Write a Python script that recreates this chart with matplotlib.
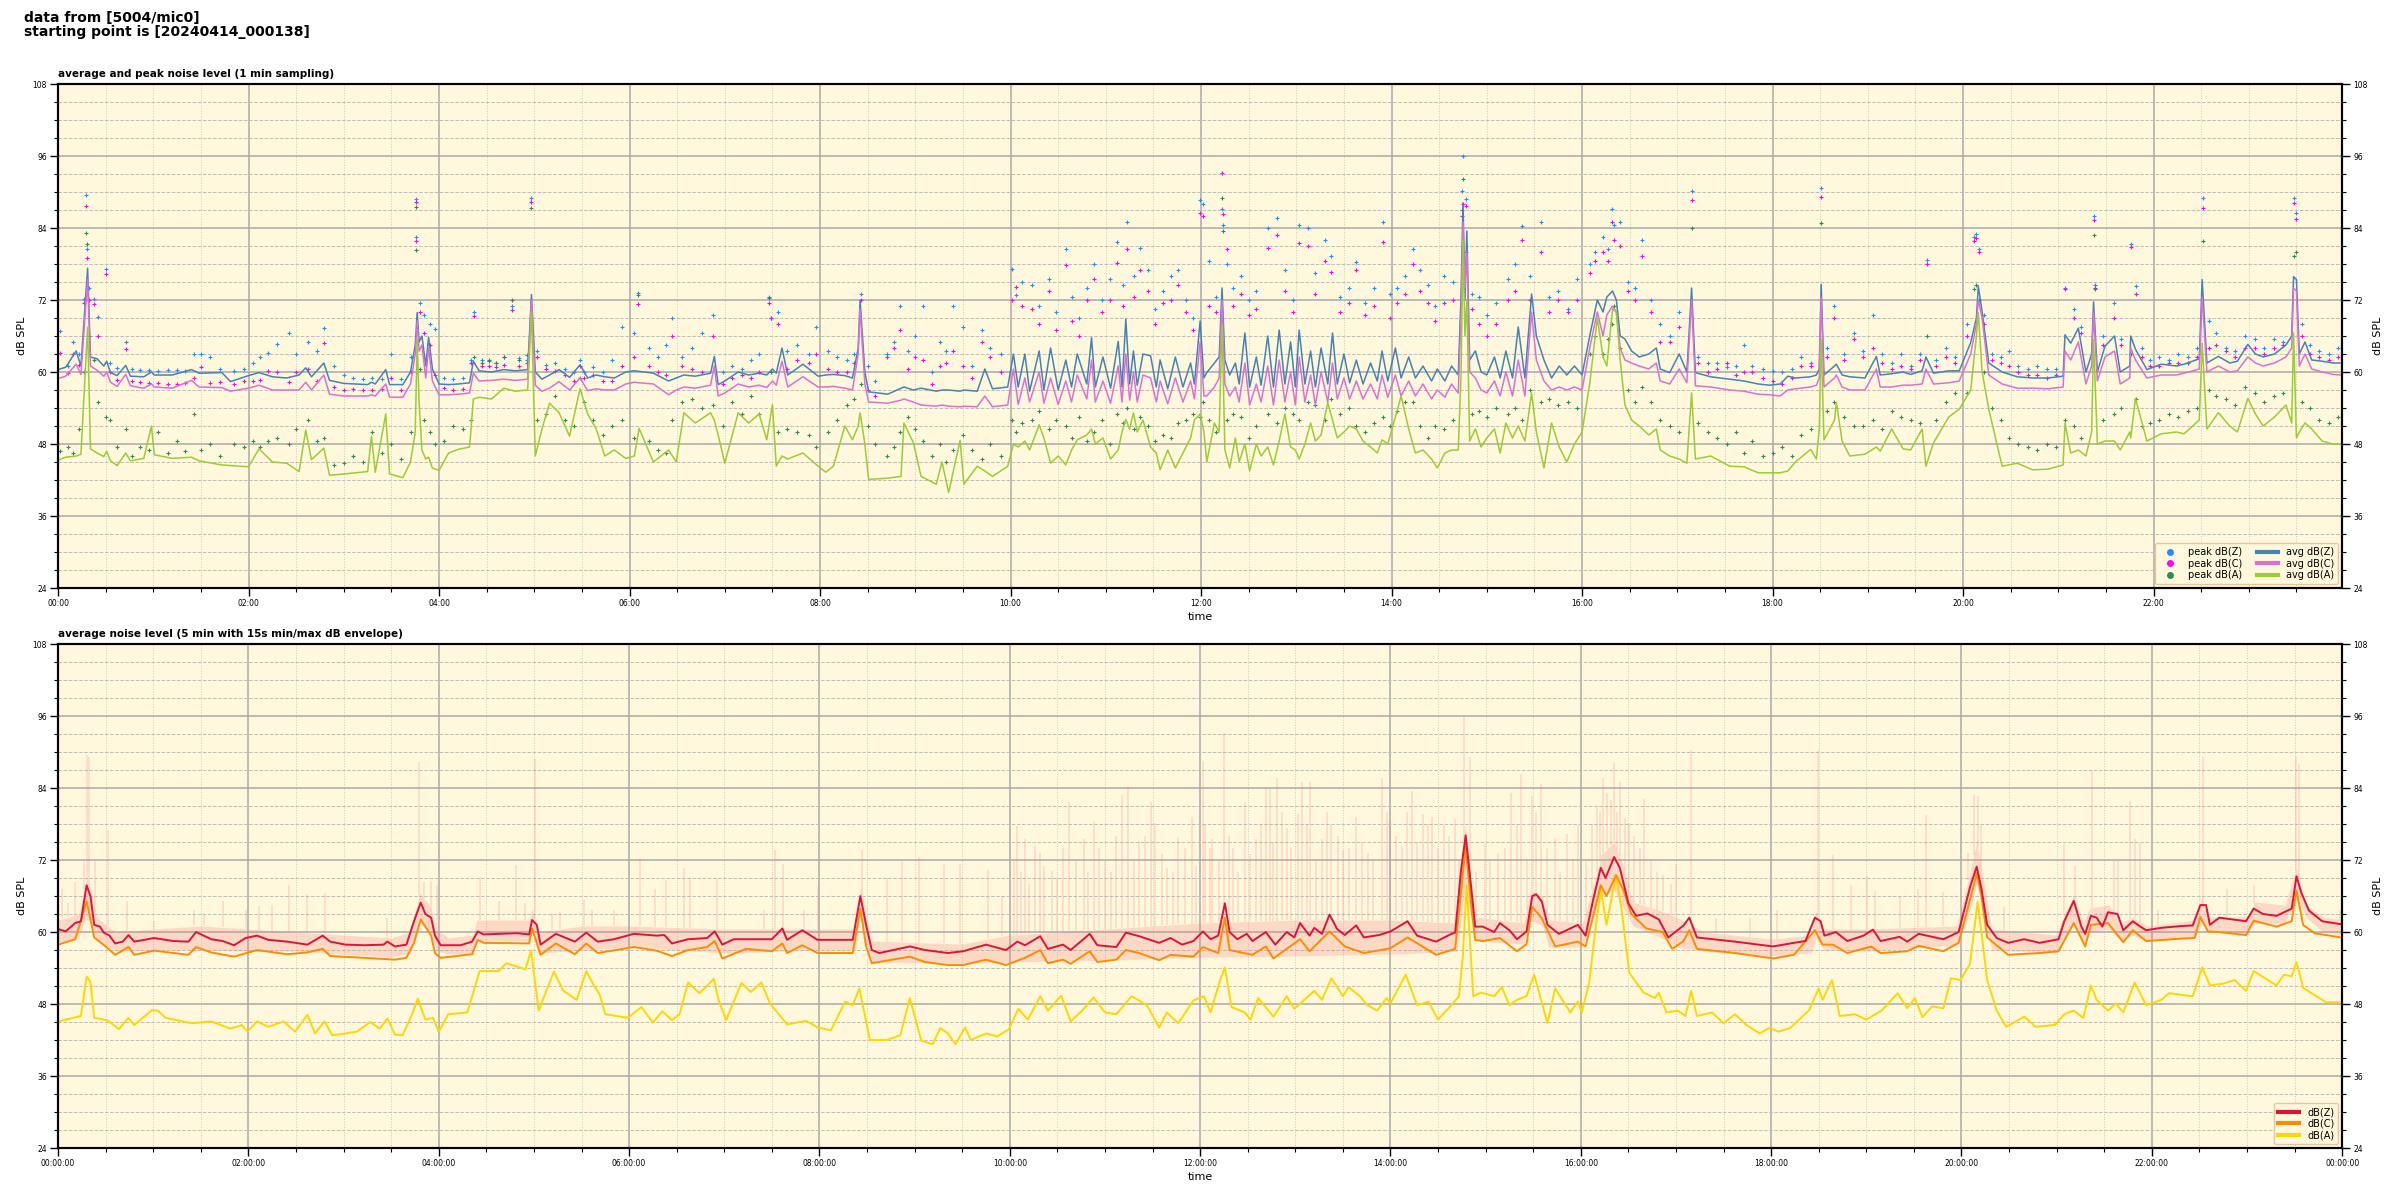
import numpy as np
import matplotlib
matplotlib.use('Agg')
import matplotlib.pyplot as plt
from matplotlib.ticker import MultipleLocator, FuncFormatter
from matplotlib.lines import Line2D

# ---------------- top panel: 1 min averages (hours since midnight) ----------------
t_avg = [0.00,0.08,0.19,0.24,0.31,0.34,0.41,0.48,0.51,0.55,
         0.62,0.71,0.76,0.90,0.98,1.01,1.20,1.40,1.48,1.72,
         1.81,2.00,2.11,2.25,2.40,2.53,2.60,2.66,2.79,2.85,
         3.00,3.25,3.29,3.33,3.44,3.48,3.62,3.70,3.75,3.77,
         3.79,3.82,3.86,3.89,3.93,4.00,4.10,4.20,4.32,4.36,
         4.42,4.55,4.68,4.80,4.93,4.97,5.01,5.08,5.16,5.26,
         5.37,5.48,5.56,5.65,5.74,5.84,5.96,6.05,6.10,6.25,
         6.41,6.49,6.57,6.69,6.85,6.89,6.93,7.00,7.14,7.25,
         7.36,7.44,7.50,7.54,7.60,7.66,7.82,7.98,8.06,8.14,
         8.26,8.34,8.40,8.42,8.47,8.51,8.71,8.85,8.88,8.98,
         9.06,9.22,9.28,9.35,9.47,9.51,9.65,9.73,9.81,9.97,
         10.03,10.08,10.15,10.20,10.30,10.35,10.42,10.50,10.58,10.64,
         10.70,10.80,10.85,10.89,10.97,11.05,11.13,11.17,11.21,11.25,
         11.29,11.33,11.39,11.47,11.53,11.57,11.65,11.73,11.81,11.89,
         11.93,11.99,12.03,12.06,12.14,12.19,12.22,12.25,12.30,12.36,
         12.40,12.46,12.51,12.58,12.63,12.70,12.76,12.82,12.88,12.94,
         12.99,13.03,13.09,13.15,13.20,13.26,13.33,13.38,13.43,13.50,
         13.56,13.63,13.70,13.78,13.85,13.90,13.96,14.04,14.10,14.18,
         14.25,14.33,14.42,14.48,14.56,14.63,14.70,14.73,14.75,14.77,
         14.79,14.82,14.88,14.94,15.00,15.08,15.14,15.20,15.27,15.33,
         15.40,15.47,15.52,15.60,15.68,15.76,15.84,15.92,16.00,16.08,
         16.16,16.22,16.26,16.32,16.36,16.40,16.45,16.52,16.60,16.70,
         16.78,16.82,16.92,17.02,17.10,17.15,17.19,17.35,17.55,17.70,
         17.85,17.97,18.08,18.16,18.24,18.40,18.46,18.49,18.51,18.54,
         18.65,18.67,18.73,18.81,18.97,19.09,19.13,19.25,19.37,19.45,
         19.57,19.61,19.69,19.85,19.96,20.08,20.14,20.16,20.20,20.27,
         20.41,20.57,20.73,20.89,21.05,21.07,21.13,21.21,21.29,21.35,
         21.37,21.41,21.49,21.59,21.65,21.75,21.76,21.81,21.93,22.08,
         22.24,22.32,22.48,22.51,22.56,22.68,22.80,22.88,22.99,23.07,
         23.15,23.27,23.39,23.45,23.47,23.50,23.53,23.59,23.66,23.77,
         23.88,23.97]
z_avg = [60.4,60.8,63.5,61.0,77.3,62.5,62.2,61.0,61.8,59.9,
         59.4,61.1,59.3,59.2,60.0,59.5,59.5,60.4,59.8,59.9,
         58.4,59.4,59.9,59.2,59.0,59.5,60.7,59.2,61.5,58.6,
         58.1,57.9,58.3,58.0,60.4,57.9,57.9,60.0,64.5,69.9,
         65.0,66.0,61.0,65.8,60.5,58.0,57.9,58.0,58.2,61.8,
         60.2,60.0,60.4,60.2,60.4,72.9,60.0,58.8,59.5,60.4,
         59.1,61.2,59.0,59.5,59.2,59.0,60.0,60.2,60.1,59.8,
         58.5,59.0,59.5,59.3,59.8,62.6,57.9,58.5,60.0,59.5,
         59.8,59.5,60.5,59.8,64.0,59.5,61.3,59.3,59.5,59.6,
         59.4,59.0,64.0,72.0,60.0,56.7,56.3,57.3,57.5,57.0,
         57.3,56.8,57.0,57.0,56.8,57.0,56.8,60.5,57.2,57.5,
         63.0,57.5,63.0,56.8,63.5,57.0,64.0,57.0,62.0,57.5,
         63.0,58.0,65.7,57.5,62.5,57.3,65.1,57.5,68.8,58.0,
         63.5,57.8,63.0,62.7,57.5,62.0,57.2,62.5,57.5,61.5,
         58.0,68.5,59.0,59.9,61.5,62.5,74.0,62.0,59.5,61.5,
         58.0,66.5,57.5,62.5,57.8,66.0,57.5,67.0,58.0,65.0,
         57.5,67.0,58.0,63.5,57.5,64.0,58.0,66.5,58.0,63.0,
         58.2,62.0,58.0,61.5,58.5,63.5,58.5,64.0,59.0,62.5,
         59.0,61.0,58.5,60.5,58.5,61.0,59.5,73.0,88.2,72.0,
         83.5,62.0,63.5,60.0,59.5,62.5,59.0,63.5,59.0,67.5,
         59.0,73.0,66.0,62.0,59.0,61.0,59.5,61.0,59.5,66.0,
         72.0,70.0,72.5,73.5,72.0,66.0,65.5,63.5,62.5,63.0,
         64.0,60.5,59.9,63.0,60.0,74.0,59.9,59.2,58.8,58.5,
         58.0,57.8,58.0,59.3,59.0,59.2,59.5,60.5,74.6,59.5,
         61.0,61.3,59.5,59.2,59.0,62.6,59.5,59.7,60.0,59.6,
         60.2,62.5,59.8,60.2,60.2,64.9,69.0,74.3,70.0,61.5,
         60.0,59.2,59.0,59.0,59.3,66.2,64.8,67.3,60.0,63.0,
         71.7,60.0,64.3,66.0,60.0,61.0,66.0,63.8,60.4,61.3,
         61.0,61.3,62.2,75.4,61.5,62.6,61.5,61.8,64.6,63.0,
         62.5,63.0,64.5,66.0,75.9,75.4,63.0,65.0,62.0,61.8,
         61.5,61.5]
c_avg = [58.9,59.3,61.3,59.6,75.4,61.0,60.3,59.3,60.0,58.3,
         57.6,59.6,57.7,57.3,58.0,57.5,57.3,58.6,57.5,57.4,
         56.8,57.3,57.8,57.0,57.0,57.0,58.3,57.0,59.5,56.3,
         56.0,56.0,56.2,56.0,58.0,55.8,55.8,58.0,63.0,68.5,
         63.5,64.5,59.0,64.0,58.5,56.2,56.2,56.3,56.5,59.8,
         58.5,58.6,58.8,58.6,58.8,72.0,57.8,56.8,57.3,58.4,
         57.0,59.0,56.9,57.2,57.0,57.0,58.0,58.3,58.2,58.0,
         56.2,57.0,57.5,57.3,57.8,61.0,56.0,56.5,58.0,57.5,
         57.8,57.4,58.5,57.8,61.8,57.5,59.2,57.5,57.5,57.6,
         57.3,57.0,63.0,70.5,58.0,55.0,54.8,55.3,55.5,55.0,
         54.5,54.3,54.5,54.3,54.2,54.3,54.2,56.0,54.2,54.5,
         60.5,54.6,59.0,55.0,60.0,54.8,59.0,54.6,58.5,55.0,
         59.5,55.5,62.0,55.0,58.5,54.8,61.0,55.0,63.0,55.3,
         60.0,55.0,59.5,59.0,55.0,58.5,54.7,59.0,55.0,58.5,
         55.5,65.0,56.0,56.0,57.5,59.0,72.0,58.0,56.0,57.5,
         55.0,61.5,54.5,58.0,55.0,61.0,54.5,62.0,55.0,60.0,
         54.5,62.5,55.0,59.5,54.5,60.0,55.0,61.5,55.5,59.0,
         55.5,58.5,55.5,58.0,55.5,59.5,55.8,59.5,56.0,58.5,
         56.0,58.0,55.5,57.0,55.8,58.0,56.5,70.0,85.0,74.0,
         80.0,60.0,59.0,57.0,56.5,58.5,56.0,60.0,56.0,62.0,
         56.0,70.0,62.0,58.5,57.0,57.5,57.0,57.5,57.0,64.0,
         70.0,66.0,69.5,71.0,70.0,64.0,62.0,61.5,61.0,60.5,
         61.5,58.5,58.0,60.5,58.2,72.0,57.7,57.5,57.0,56.8,
         56.3,56.2,56.0,57.0,57.2,57.5,57.8,59.0,72.5,57.5,
         59.0,59.5,57.5,57.0,57.0,60.5,57.5,57.5,57.8,57.8,
         58.0,60.5,58.0,58.2,58.5,63.0,68.0,72.0,69.0,59.5,
         58.0,57.3,57.3,57.2,57.5,63.5,62.0,65.0,58.0,61.0,
         70.0,58.5,62.5,63.5,58.0,59.0,64.0,62.0,59.0,59.5,
         59.5,59.8,60.5,72.5,60.0,61.0,60.0,60.2,62.5,61.5,
         61.0,61.5,62.5,64.0,74.0,73.5,61.0,63.0,60.5,60.0,
         59.6,59.5]
a_avg = [45.3,45.8,46.0,46.3,67.5,47.2,46.5,45.9,46.8,45.2,
         44.4,46.5,45.2,45.6,51.0,46.2,45.6,45.8,45.2,44.5,
         44.4,44.2,47.2,45.0,44.8,43.4,50.3,45.4,47.3,42.8,
         43.0,43.4,49.3,43.3,53.0,43.0,42.4,45.0,50.0,65.5,
         55.0,47.0,45.5,45.8,44.0,43.6,46.5,47.1,47.5,55.5,
         55.8,55.5,57.3,56.8,57.0,69.9,46.0,50.5,54.8,53.2,
         49.3,57.2,53.0,50.5,46.0,47.0,45.6,46.0,50.6,45.0,
         47.0,45.0,53.2,51.5,53.2,52.0,49.5,44.8,53.2,51.5,
         53.0,48.7,54.6,44.3,46.0,45.5,46.5,44.3,43.3,44.3,
         51.0,48.7,51.0,53.2,48.0,42.1,42.3,42.6,51.5,48.2,
         42.6,41.3,45.0,39.9,48.6,41.3,44.3,43.5,42.6,44.3,
         48.0,47.5,48.5,47.0,51.2,49.0,44.8,46.0,44.5,47.0,
         48.7,49.5,50.5,48.0,49.0,45.5,47.0,50.0,52.1,50.5,
         53.2,50.0,52.0,47.5,46.5,43.7,47.0,44.0,46.5,49.0,
         52.0,53.0,50.0,45.0,51.5,50.0,68.0,47.0,44.0,49.0,
         45.0,48.0,43.5,48.0,46.0,47.5,44.5,48.5,53.0,47.5,
         47.0,45.5,48.0,51.5,48.5,49.5,54.9,52.0,49.0,50.0,
         51.0,50.5,48.5,47.5,46.5,48.7,48.0,52.5,56.0,50.5,
         46.5,47.0,45.5,44.0,46.5,47.0,47.0,60.0,82.0,66.0,
         72.0,48.5,50.5,47.5,49.0,50.5,46.5,51.5,49.0,51.0,
         48.5,56.5,50.0,44.0,51.5,47.5,45.0,48.0,50.0,58.0,
         69.0,62.5,61.0,70.5,70.0,62.0,54.5,52.0,51.0,49.5,
         50.5,47.0,46.0,45.5,44.8,56.5,45.5,46.0,44.3,44.2,
         43.2,43.2,43.2,43.5,45.0,47.1,45.5,50.5,65.4,48.7,
         52.0,54.9,48.5,46.0,46.3,47.5,46.8,50.5,47.2,47.0,
         50.5,44.3,48.2,52.5,53.8,57.0,66.0,69.9,60.0,53.8,
         44.3,44.8,43.7,43.8,44.5,51.5,46.5,47.0,46.0,50.0,
         65.4,48.0,48.5,48.5,47.0,50.0,49.0,55.6,48.5,49.7,
         50.0,49.7,52.0,64.8,50.5,53.2,51.0,50.0,55.6,53.0,
         51.0,52.5,54.5,51.5,66.5,49.0,50.0,51.5,50.5,48.5,
         48.0,48.0]

# ---------------- top panel: 1 min peaks ----------------
t_peak = [0.02,0.10,0.16,0.22,0.27,0.29,0.30,0.32,0.38,0.42,
          0.50,0.55,0.62,0.71,0.78,0.86,0.95,1.05,1.15,1.25,
          1.33,1.43,1.50,1.60,1.70,1.85,1.95,2.05,2.12,2.20,
          2.30,2.42,2.50,2.62,2.72,2.79,2.90,3.00,3.10,3.20,
          3.30,3.40,3.50,3.60,3.70,3.755,3.76,3.80,3.84,3.90,
          3.96,4.05,4.15,4.25,4.34,4.37,4.45,4.52,4.60,4.68,
          4.77,4.84,4.92,4.97,5.03,5.12,5.22,5.32,5.42,5.48,
          5.52,5.62,5.72,5.82,5.92,6.05,6.09,6.20,6.30,6.38,
          6.45,6.55,6.66,6.76,6.88,6.98,7.08,7.18,7.28,7.36,
          7.46,7.48,7.56,7.65,7.76,7.88,7.96,8.08,8.18,8.28,
          8.36,8.43,8.50,8.58,8.70,8.78,8.84,8.92,9.00,9.08,
          9.18,9.26,9.32,9.40,9.50,9.60,9.70,9.78,9.90,10.02,
          10.06,10.12,10.22,10.30,10.40,10.48,10.58,10.64,10.72,10.80,
          10.88,10.96,11.04,11.12,11.18,11.22,11.30,11.36,11.44,11.52,
          11.60,11.68,11.76,11.84,11.92,11.99,12.02,12.08,12.16,12.22,
          12.23,12.27,12.34,12.42,12.50,12.58,12.70,12.80,12.88,12.96,
          13.03,13.12,13.20,13.30,13.36,13.46,13.55,13.63,13.72,13.82,
          13.91,13.98,14.06,14.14,14.22,14.30,14.38,14.46,14.55,14.64,
          14.74,14.75,14.78,14.84,14.92,15.00,15.10,15.22,15.30,15.37,
          15.45,15.57,15.65,15.75,15.85,15.95,16.08,16.14,16.22,16.27,
          16.31,16.34,16.40,16.48,16.56,16.63,16.72,16.82,16.92,17.02,
          17.15,17.22,17.32,17.42,17.52,17.62,17.70,17.78,17.90,18.00,
          18.10,18.20,18.30,18.40,18.51,18.57,18.65,18.75,18.85,18.95,
          19.05,19.15,19.25,19.35,19.45,19.55,19.62,19.72,19.82,19.92,
          20.04,20.12,20.14,20.17,20.22,20.30,20.40,20.48,20.58,20.68,
          20.78,20.88,20.98,21.07,21.16,21.24,21.37,21.39,21.47,21.58,
          21.66,21.76,21.82,21.88,21.96,22.06,22.16,22.26,22.36,22.46,
          22.52,22.58,22.66,22.76,22.86,22.96,23.06,23.16,23.26,23.36,
          23.47,23.50,23.56,23.64,23.74,23.84,23.94]
pz = [66.9,61.0,65.0,63.0,72.2,89.5,80.5,74.0,72.1,69.2,
      77.1,61.5,60.6,65.0,60.5,60.3,60.3,60.2,60.4,60.3,
      60.2,63.0,63.0,62.5,60.5,60.2,60.5,61.5,62.5,63.2,
      64.6,66.5,63.0,65.0,63.5,67.3,61.0,59.5,59.0,58.8,
      59.0,58.9,63.0,58.8,62.5,82.5,88.9,71.5,69.5,68.0,
      67.2,59.0,58.8,59.0,62.0,70.0,62.0,61.8,61.5,62.5,
      71.0,62.3,62.0,89.0,63.5,61.2,61.5,60.5,60.0,62.0,
      60.0,60.8,60.0,62.0,67.5,66.5,73.2,64.0,62.5,64.5,
      69.0,62.5,64.0,66.5,69.5,60.0,61.0,60.5,62.0,63.0,
      72.5,69.0,70.0,63.5,64.5,63.0,67.5,63.5,62.5,62.0,
      63.0,73.0,61.0,58.5,63.0,65.0,71.0,63.5,66.0,71.0,
      60.0,65.0,63.5,71.0,67.5,61.0,67.0,64.0,63.0,77.2,
      72.8,75.0,74.5,71.0,75.5,70.0,80.5,72.5,69.0,74.0,
      78.0,72.0,75.5,81.6,74.5,85.0,76.0,80.7,77.0,70.5,
      73.5,76.0,77.0,72.0,69.0,88.7,88.0,78.5,72.5,87.1,
      84.5,78.0,74.0,76.0,72.0,73.5,84.0,85.7,77.0,72.0,
      84.5,84.0,76.5,82.0,79.4,72.5,74.0,78.3,71.5,74.0,
      85.0,73.0,74.0,76.0,80.5,77.0,74.5,71.0,76.0,75.0,
      90.2,96.0,88.8,73.0,72.5,69.5,71.5,75.5,78.0,84.3,
      76.0,85.0,72.5,73.5,70.5,75.5,78.0,80.0,82.5,80.5,
      87.2,84.5,85.0,75.0,74.0,82.0,72.0,68.0,66.0,70.0,
      90.1,62.5,61.5,61.5,60.8,61.0,64.5,61.0,60.5,60.2,
      60.0,60.5,62.5,61.5,90.6,64.0,71.0,63.0,66.5,63.5,
      69.5,63.0,61.5,63.0,61.0,63.0,78.7,62.0,64.0,62.5,
      68.0,82.5,83.0,80.5,69.5,63.0,62.5,63.5,61.0,60.5,
      61.0,60.5,60.5,74.0,70.5,67.5,86.0,74.5,66.0,71.5,
      65.5,81.3,74.3,64.0,62.0,62.5,62.0,63.0,62.5,64.0,
      89.0,68.5,66.5,64.0,63.5,66.0,65.5,64.0,65.5,65.0,
      89.0,86.5,68.0,64.5,63.5,63.0,64.0]
pc = [63.2,59.8,63.0,61.2,71.5,87.7,79.0,72.0,71.3,66.0,
      76.3,60.0,58.6,63.9,58.5,58.3,58.2,58.2,58.0,58.0,
      58.1,59.0,60.8,58.2,58.3,58.0,58.5,58.5,58.7,60.2,
      60.0,58.3,60.0,60.5,58.5,64.9,57.5,57.0,57.2,57.0,
      57.0,57.2,59.0,57.0,60.0,81.9,88.4,70.0,66.5,64.5,
      59.5,57.3,57.0,57.2,61.5,69.3,61.0,61.0,60.8,61.2,
      70.3,61.0,61.5,88.4,62.5,60.5,60.2,59.5,58.5,61.0,
      59.0,59.5,58.5,58.5,61.0,62.5,71.3,61.0,60.0,59.5,
      66.0,61.0,60.5,60.0,66.0,58.0,59.0,59.5,59.0,60.0,
      71.5,69.0,68.0,60.5,62.0,61.5,63.0,60.5,60.0,60.0,
      61.5,72.0,57.0,56.0,62.5,64.0,67.0,60.5,62.5,62.0,
      58.0,61.0,61.5,63.5,61.0,59.0,65.0,62.5,60.0,72.0,
      74.2,71.0,70.5,68.0,73.5,67.0,77.8,68.5,66.0,72.0,
      75.5,70.0,72.0,78.2,71.0,80.5,72.5,77.0,73.5,68.0,
      71.5,72.0,74.5,70.0,67.0,86.5,86.0,71.0,70.0,93.1,
      86.4,80.5,71.0,73.0,69.5,70.5,80.7,82.8,73.5,70.0,
      81.5,81.0,73.0,78.5,76.6,70.0,71.5,77.0,69.5,71.0,
      81.7,69.0,71.5,73.0,78.0,73.5,71.5,68.5,71.5,72.0,
      86.0,88.0,87.7,70.5,68.0,66.0,68.0,72.0,73.5,82.0,
      72.0,80.0,70.0,72.0,70.0,72.0,76.5,78.5,80.0,78.5,
      85.0,82.0,81.0,73.5,72.0,79.4,70.0,65.0,65.0,67.5,
      88.6,61.5,60.0,60.5,61.5,59.5,60.0,60.0,59.0,58.5,
      58.0,59.0,61.0,61.0,89.2,62.5,69.0,62.0,65.5,62.5,
      64.0,61.5,60.5,61.0,60.5,62.0,78.0,61.0,62.5,61.5,
      66.0,81.8,82.3,80.0,68.0,62.0,61.5,61.0,60.0,59.5,
      59.5,59.0,59.5,73.8,69.0,66.5,85.4,74.0,64.5,69.0,
      64.5,80.9,73.0,62.5,61.0,61.0,61.5,61.5,61.5,62.5,
      87.4,64.0,64.5,63.5,62.5,64.0,64.0,63.0,64.0,64.5,
      88.1,85.5,66.0,63.0,62.5,62.0,62.5]
pa = [46.9,47.5,46.5,50.5,60.0,83.1,81.4,66.0,62.0,55.0,
      52.5,52.0,47.5,50.5,46.0,47.5,47.0,50.0,46.5,48.5,
      46.8,53.0,47.0,48.0,46.0,48.0,47.5,48.5,47.5,48.5,
      49.0,48.0,50.5,52.0,48.5,49.0,44.5,44.8,46.0,45.0,
      50.0,46.5,48.0,45.5,50.0,80.4,87.5,60.5,52.0,50.0,
      48.0,48.5,51.0,50.5,52.0,62.5,61.5,62.0,61.5,62.5,
      72.0,62.0,62.8,87.4,52.0,53.0,56.0,52.0,51.0,59.0,
      55.0,52.0,49.5,51.0,52.0,49.0,72.9,48.5,47.0,46.5,
      52.0,55.0,55.5,54.0,54.5,51.0,55.0,53.0,56.0,53.0,
      72.4,60.0,50.0,50.5,50.0,49.5,47.5,50.0,52.0,54.5,
      55.5,58.0,51.0,48.0,46.0,47.5,50.0,52.5,50.5,48.5,
      46.0,48.0,45.0,47.0,49.5,47.0,45.5,48.0,46.0,52.0,
      50.0,51.5,52.0,53.5,50.5,52.0,51.0,49.0,52.5,48.5,
      50.0,52.0,48.0,53.0,51.5,54.0,50.5,52.5,51.0,48.5,
      49.5,49.0,51.5,52.0,53.0,52.5,55.0,52.0,50.0,89.0,
      83.5,52.0,53.0,52.5,49.0,51.0,53.0,51.5,54.0,53.0,
      52.0,55.0,54.5,52.0,55.5,53.0,54.0,51.0,50.0,51.5,
      52.5,51.0,53.5,55.0,55.0,51.0,49.0,51.0,50.5,52.0,
      87.0,92.1,80.0,53.0,53.5,52.5,54.0,53.0,54.0,52.0,
      57.0,55.0,55.5,54.5,55.0,54.0,63.0,66.0,63.0,65.5,
      68.0,71.0,64.0,57.0,55.0,57.5,55.0,52.0,51.0,50.0,
      84.0,51.5,50.0,49.0,48.0,50.0,46.5,48.5,46.0,46.5,
      47.5,46.0,49.5,50.5,84.8,53.5,55.0,52.5,51.0,51.0,
      52.0,50.5,53.5,52.5,52.0,51.5,66.0,52.0,55.0,56.5,
      56.5,73.9,74.5,72.0,60.0,54.0,52.0,49.0,48.0,47.5,
      47.0,48.0,47.5,52.0,51.0,49.0,82.9,73.9,52.0,53.0,
      54.0,63.0,55.5,51.0,51.5,52.0,53.0,52.5,53.5,54.0,
      81.8,57.0,56.0,55.5,54.5,57.5,56.5,55.0,56.0,56.5,
      79.3,80.0,55.0,54.0,52.0,51.5,52.5]

# ---------------- bottom panel: 5 min averages ----------------
t_z5 = [0.00,0.08,0.18,0.24,0.30,0.34,0.38,0.44,0.48,0.54,
        0.60,0.68,0.74,0.80,1.01,1.21,1.37,1.45,1.61,1.73,
        1.85,1.97,2.09,2.21,2.41,2.62,2.78,2.86,3.02,3.22,
        3.42,3.46,3.54,3.66,3.74,3.81,3.86,3.92,3.96,4.02,
        4.23,4.35,4.41,4.47,4.63,4.83,4.95,4.98,5.03,5.07,
        5.23,5.43,5.55,5.67,5.84,6.05,6.29,6.37,6.45,6.62,
        6.82,6.90,6.98,7.10,7.50,7.61,7.66,7.82,7.98,8.35,
        8.43,8.49,8.55,8.63,8.95,9.11,9.35,9.51,9.75,9.96,
        10.08,10.16,10.32,10.40,10.56,10.64,10.84,10.92,11.12,11.22,
        11.36,11.57,11.69,11.81,11.93,12.03,12.11,12.19,12.26,12.31,
        12.39,12.49,12.55,12.69,12.79,12.91,12.99,13.05,13.15,13.20,
        13.28,13.36,13.44,13.52,13.64,13.72,13.88,14.00,14.18,14.28,
        14.48,14.64,14.68,14.74,14.79,14.85,14.89,14.97,15.09,15.15,
        15.25,15.33,15.43,15.49,15.53,15.59,15.65,15.77,15.97,16.05,
        16.13,16.21,16.26,16.35,16.41,16.50,16.58,16.70,16.82,16.92,
        17.08,17.14,17.22,17.62,18.02,18.24,18.36,18.46,18.52,18.56,
        18.68,18.80,18.97,19.07,19.15,19.35,19.43,19.55,19.81,19.97,
        20.09,20.16,20.21,20.27,20.37,20.49,20.66,20.82,21.02,21.08,
        21.18,21.26,21.30,21.36,21.42,21.48,21.54,21.64,21.70,21.80,
        21.88,21.94,22.10,22.31,22.43,22.51,22.57,22.61,22.71,22.99,
        23.07,23.17,23.31,23.47,23.52,23.57,23.65,23.79,23.99]
z5 = [60.5,60.1,61.5,61.8,67.8,66.0,61.2,60.9,59.9,59.4,
      58.1,58.4,59.5,58.4,59.0,58.5,58.4,60.0,58.8,58.5,
      57.8,59.0,59.4,58.7,58.4,57.9,59.4,58.4,57.9,57.8,
      57.9,58.4,57.6,57.9,61.8,64.9,63.0,62.4,59.4,57.8,
      57.8,58.4,60.1,59.6,59.7,59.8,59.6,62.0,61.2,57.9,
      59.7,58.4,59.9,58.4,58.8,59.7,59.4,59.5,58.1,58.8,
      59.0,60.1,57.9,58.8,58.8,60.6,58.7,60.3,58.7,58.7,
      66.0,61.2,57.0,56.5,57.6,57.0,56.5,56.8,57.9,57.0,
      58.4,57.8,59.3,57.2,57.9,57.0,59.7,57.8,57.5,59.9,
      59.3,58.2,59.0,57.9,58.5,60.1,58.8,59.4,64.8,60.0,
      58.8,59.7,58.5,60.0,57.9,60.0,59.1,61.5,59.4,60.7,
      59.7,62.9,60.5,59.5,61.1,59.1,59.5,60.1,61.8,59.4,
      58.4,59.7,59.9,70.1,76.1,67.2,60.9,60.9,60.0,61.5,
      60.3,58.8,60.1,66.0,66.3,65.1,61.2,59.7,61.2,59.4,
      65.4,70.7,69.0,72.5,70.7,64.8,62.7,63.1,62.1,59.1,
      61.1,62.4,59.1,58.4,57.6,58.2,58.5,62.4,61.8,59.4,
      60.0,58.5,59.4,60.4,58.5,59.2,58.4,59.7,58.8,60.0,
      67.5,70.9,67.2,61.2,59.0,58.2,58.8,58.2,58.8,61.8,
      65.2,60.9,59.7,62.7,62.4,60.9,63.3,63.0,60.3,61.8,
      60.9,60.3,60.7,61.0,61.1,64.5,64.5,61.2,62.4,61.8,
      63.9,63.0,62.7,63.9,69.3,66.6,63.6,61.8,61.3]

t_c5 = [0.00,0.18,0.30,0.38,0.50,0.60,0.74,0.80,1.01,1.37,
        1.45,1.61,1.85,2.09,2.41,2.62,2.78,2.86,3.22,3.54,
        3.66,3.74,3.81,3.92,3.96,4.02,4.35,4.41,4.47,4.95,
        4.98,5.07,5.23,5.43,5.55,5.67,6.05,6.29,6.45,6.62,
        6.82,6.90,6.98,7.23,7.50,7.61,7.66,7.82,7.98,8.35,
        8.43,8.49,8.55,8.95,9.11,9.35,9.51,9.75,9.96,10.16,
        10.32,10.40,10.56,10.64,10.84,10.92,11.12,11.22,11.36,11.57,
        11.69,11.93,12.03,12.19,12.26,12.31,12.55,12.69,12.77,13.05,
        13.15,13.36,13.52,13.72,14.00,14.18,14.48,14.68,14.79,14.85,
        14.89,14.97,15.15,15.33,15.43,15.49,15.59,15.73,15.97,16.05,
        16.21,16.27,16.37,16.45,16.53,16.69,16.86,16.96,17.08,17.14,
        17.22,17.62,18.02,18.24,18.46,18.54,18.65,18.80,19.05,19.15,
        19.43,19.55,19.81,19.97,20.09,20.16,20.21,20.27,20.49,20.82,
        21.02,21.18,21.30,21.36,21.54,21.70,21.80,21.94,22.31,22.45,
        22.51,22.59,22.71,22.99,23.07,23.31,23.47,23.52,23.59,23.71,
        23.99]
c5 = [57.9,58.8,65.1,59.1,57.6,56.2,57.5,56.2,56.9,56.2,
      57.5,56.6,55.9,57.0,56.3,56.6,57.2,56.0,55.7,55.4,
      55.7,58.2,62.1,59.4,56.5,55.7,56.3,58.7,58.2,58.1,
      60.6,56.2,58.1,56.3,58.1,56.5,57.5,56.9,56.0,57.0,
      57.5,58.5,55.6,57.2,56.8,58.1,56.5,57.8,56.5,56.5,
      63.9,57.6,54.8,55.9,55.0,54.5,54.5,55.4,54.5,55.7,
      57.0,54.8,55.4,54.7,56.8,55.0,55.4,57.0,56.5,55.3,
      56.2,55.9,57.5,56.5,62.4,57.0,56.2,57.6,55.6,58.8,
      56.8,60.1,57.6,56.5,57.3,59.1,56.2,57.2,74.3,64.2,
      58.7,58.5,59.0,56.8,58.0,64.2,62.3,57.6,58.4,57.6,
      67.8,66.0,69.5,66.9,63.0,60.6,60.0,57.2,58.5,60.3,
      57.2,56.5,55.6,56.2,60.3,57.9,57.9,56.5,57.6,56.5,
      56.8,57.7,56.8,58.2,65.4,69.8,66.0,59.1,56.2,56.5,
      56.8,61.5,57.6,61.2,61.5,58.3,60.3,58.5,58.9,59.0,
      62.5,60.1,60.0,59.5,61.9,60.9,61.8,66.9,61.2,59.8,
      59.1]

t_a5 = [0.00,0.24,0.30,0.34,0.38,0.52,0.64,0.74,0.80,0.99,
        1.05,1.13,1.25,1.41,1.61,1.81,1.93,1.99,2.09,2.21,
        2.37,2.49,2.62,2.70,2.80,2.88,3.02,3.14,3.28,3.38,
        3.46,3.54,3.62,3.72,3.78,3.86,3.94,4.00,4.10,4.30,
        4.43,4.63,4.71,4.91,4.97,5.05,5.21,5.31,5.45,5.55,
        5.63,5.69,5.75,5.99,6.13,6.25,6.35,6.45,6.53,6.62,
        6.74,6.89,6.94,7.02,7.18,7.28,7.39,7.48,7.66,7.86,
        7.98,8.12,8.27,8.35,8.42,8.53,8.71,8.85,8.95,9.07,
        9.19,9.27,9.35,9.43,9.53,9.59,9.75,9.87,9.99,10.09,
        10.19,10.32,10.40,10.54,10.64,10.76,10.88,11.00,11.12,11.28,
        11.44,11.57,11.65,11.77,11.93,12.04,12.11,12.21,12.26,12.33,
        12.47,12.53,12.61,12.77,12.91,12.99,13.20,13.28,13.38,13.50,
        13.56,13.68,13.76,13.86,13.96,14.00,14.16,14.28,14.40,14.50,
        14.64,14.72,14.76,14.80,14.87,14.95,15.09,15.17,15.25,15.33,
        15.43,15.51,15.65,15.73,15.89,15.97,16.01,16.09,16.15,16.21,
        16.27,16.37,16.43,16.51,16.66,16.78,16.82,16.90,17.02,17.10,
        17.16,17.22,17.38,17.50,17.62,17.74,17.88,17.98,18.08,18.20,
        18.32,18.40,18.50,18.54,18.64,18.72,18.88,19.00,19.16,19.33,
        19.43,19.51,19.59,19.69,19.81,19.89,19.99,20.09,20.17,20.27,
        20.37,20.47,20.66,20.78,20.98,21.08,21.18,21.28,21.36,21.42,
        21.54,21.62,21.70,21.82,21.94,22.10,22.18,22.43,22.53,22.61,
        22.75,22.87,22.99,23.07,23.19,23.31,23.39,23.47,23.52,23.59,
        23.71,23.83,23.99]
a5 = [45.1,46.0,52.6,51.7,45.7,45.3,43.8,45.7,44.5,47.0,
      46.9,45.7,45.3,44.8,45.1,43.9,44.5,43.4,45.1,44.2,
      45.1,43.4,46.2,43.1,45.1,42.8,43.1,43.4,45.0,43.9,
      45.6,42.9,42.8,46.3,48.9,45.4,45.7,43.4,46.3,46.6,
      53.5,53.5,54.8,53.8,56.9,46.9,53.4,50.2,48.7,53.5,
      51.1,49.6,46.3,45.7,47.5,44.9,46.8,45.3,46.3,51.6,
      49.8,52.2,48.7,45.3,51.5,50.0,51.6,48.1,44.6,45.2,
      44.1,43.6,48.4,47.8,50.6,42.0,42.0,42.8,49.0,41.9,
      41.3,44.0,43.1,41.3,44.1,42.0,43.1,42.6,43.8,47.2,
      45.4,49.3,46.9,49.4,45.1,46.9,49.1,46.6,46.3,49.3,
      47.8,44.1,46.6,44.8,48.6,49.3,46.6,52.0,54.1,47.5,
      46.6,45.4,49.0,45.9,49.3,47.2,50.2,48.7,52.3,49.3,
      50.8,49.3,47.8,46.9,49.0,48.1,52.9,47.8,48.4,45.4,
      47.8,49.3,55.9,67.8,49.3,49.9,49.3,50.8,47.8,48.7,
      49.3,52.9,44.8,50.6,46.6,48.4,46.6,51.7,60.0,67.1,
      61.2,69.5,63.6,53.2,49.9,49.0,49.9,46.6,46.9,46.0,
      50.2,46.0,46.6,44.8,46.3,44.5,43.1,44.0,43.4,44.0,
      45.8,47.0,50.6,48.7,52.0,46.0,46.3,45.4,46.9,49.8,
      47.3,49.0,45.8,47.6,47.3,52.3,52.0,54.7,65.1,52.0,
      46.9,44.2,45.9,44.2,44.5,46.3,46.9,45.7,51.1,48.7,
      46.9,48.1,46.6,51.6,47.8,48.7,49.8,49.3,54.1,51.1,
      51.4,52.0,50.2,53.5,52.3,51.1,52.9,52.6,55.0,50.7,
      49.5,48.3,48.3]

# 15 s min/max envelope: base band plus individual maxima
t_env = [0.00,0.22,0.28,0.34,0.40,0.60,1.00,1.50,2.00,2.50,
         3.00,3.50,3.70,3.80,3.90,3.97,4.10,4.36,4.40,4.95,
         4.98,5.05,5.50,6.00,7.00,8.00,8.38,8.43,8.50,8.55,
         9.50,10.00,11.00,12.00,13.00,14.00,14.70,14.74,14.79,14.85,
         14.90,15.40,15.47,15.60,15.66,16.02,16.12,16.22,16.35,16.45,
         16.55,16.85,17.00,17.30,18.00,18.42,18.47,18.56,19.00,19.95,
         20.06,20.16,20.24,20.32,21.00,21.08,21.18,21.28,21.35,21.55,
         21.68,21.80,21.95,22.45,22.52,22.60,23.00,23.08,23.40,23.52,
         23.62,23.80,24.00]
env_lo = [58.3,59.0,62.0,62.0,59.0,56.8,57.0,57.0,56.8,56.8,
          56.3,55.8,56.5,61.5,60.0,57.0,56.3,56.5,58.5,58.5,
          60.0,56.5,57.0,57.5,56.5,57.0,57.0,63.0,57.5,55.0,
          54.8,55.0,55.3,55.8,56.0,56.3,56.8,62.0,68.0,62.0,
          58.5,58.0,62.0,61.0,57.5,57.5,62.0,66.0,67.0,64.0,
          61.0,59.0,57.5,56.8,56.0,56.5,59.0,57.0,56.8,57.8,
          62.0,68.0,62.0,57.0,56.5,59.0,61.5,58.0,60.0,60.5,
          58.5,59.5,58.5,59.0,61.5,60.0,59.5,61.5,61.5,66.0,
          62.5,60.0,59.5]
env_hi = [62.0,63.0,68.0,67.5,62.5,60.0,60.5,61.0,60.5,60.0,
          59.5,59.0,60.0,66.5,64.5,60.5,59.0,59.5,62.0,62.0,
          64.0,60.0,61.0,61.0,60.5,60.5,60.5,67.5,62.0,58.5,
          58.0,59.5,60.5,61.5,62.0,62.0,61.5,71.0,78.0,68.0,
          62.5,61.5,67.0,66.0,62.0,61.5,67.0,73.0,75.0,71.0,
          65.0,63.5,62.5,60.0,58.8,59.5,63.5,60.5,60.5,61.0,
          68.0,75.0,68.0,60.5,59.5,63.0,66.0,61.5,64.0,64.5,
          61.5,62.5,61.0,62.0,65.5,62.5,62.5,65.0,64.5,70.5,
          64.5,62.5,62.0]
t_spk = [0.04,0.10,0.18,0.27,0.30,0.32,0.39,0.52,0.72,1.01,
         1.43,1.53,1.73,1.97,2.11,2.25,2.43,2.62,2.80,3.46,
         3.79,3.84,3.92,3.98,4.43,4.63,4.81,4.91,5.01,5.19,
         5.27,5.53,5.61,5.84,
         6.11,6.27,6.39,6.58,6.64,6.92,7.42,7.53,7.62,7.84,
         7.98,8.45,8.71,8.87,9.05,9.31,9.48,9.77,9.92,10.08,
         10.16,10.26,10.32,10.44,10.62,10.78,10.88,11.00,11.18,11.24,
         11.36,11.48,11.53,11.65,11.77,11.91,12.03,12.13,
         10.04,10.12,10.20,10.36,10.50,10.56,10.70,10.82,10.94,11.06,
         11.12,11.30,11.42,11.60,11.72,11.84,11.96,
         12.25,12.35,12.47,12.59,12.69,12.73,12.81,12.91,13.03,13.07,
         13.15,13.28,13.38,13.50,13.64,13.76,13.91,14.00,14.12,14.23,
         14.34,14.44,14.56,14.68,14.77,14.84,14.99,15.13,15.27,15.37,
         15.49,15.58,15.73,15.85,15.97,16.17,16.23,16.28,16.35,16.41,
         16.51,16.66,16.86,17.00,17.16,17.42,17.78,18.06,
         12.05,12.10,12.20,12.30,12.40,12.52,12.64,12.77,12.86,12.96,
         13.12,13.22,13.33,13.45,13.56,13.70,13.82,13.96,14.06,14.17,
         14.28,14.39,14.50,14.61,14.72,14.90,15.05,15.20,15.33,15.43,
         15.53,15.65,15.78,15.92,16.05,16.12,16.20,16.32,16.38,16.46,
         16.56,16.62,16.74,16.80,16.95,
         18.49,18.65,18.84,19.01,19.09,19.35,19.54,19.63,19.81,20.07,
         20.13,20.17,20.21,20.45,21.08,21.19,21.37,21.60,21.64,21.77,
         21.82,21.88,22.06,22.54,22.79,23.07,23.51,23.55,23.98]
v_spk = [67.2,64.8,68.4,71.9,89.5,89.2,71.8,77.0,65.1,61.8,
         63.6,63.0,65.1,63.6,64.3,64.5,67.8,66.4,66.5,62.4,
         88.4,68.4,68.5,67.8,69.2,65.1,71.2,64.8,88.9,63.1,
         63.3,65.4,63.6,63.6,
         72.4,67.2,68.7,70.7,69.2,68.8,63.6,73.7,71.3,63.6,
         67.5,73.7,69.0,71.8,72.5,71.3,71.3,70.3,66.0,77.6,
         75.5,74.3,73.1,70.1,81.7,75.5,78.5,71.9,82.8,84.4,
         75.2,81.7,78.2,70.7,75.8,79.2,88.5,75.5,
         72,70,68,71,69,74,72,70,74,70,
         76,72,76,73,70,74,71,
         93.2,74.0,81.7,75.5,84.1,83.8,85.6,77.3,79.7,85.0,
         85.0,75.5,77.9,73.7,79.1,73.1,85.6,78.5,74.3,83.5,
         79.7,79.1,77.9,78.8,95.9,89.2,74.6,73.1,83.2,86.3,
         82.6,84.7,75.5,76.4,77.9,80.9,85.6,83.2,88.1,85.0,
         78.2,82.2,69.5,71.3,90.3,62.4,62.4,63.6,
         78,74,72,76,70,73,78,75,80,74,
         78,72,80,76,74,75,72,80,76,80,
         75,78,74,76,72,70,72,74,78,72,
         80,74,70,72,72,78,80,82,80,79,
         76,74,72,70,68,
         90.3,72.8,67.8,69.3,66.9,66.0,67.2,79.5,66.6,73.1,
         82.8,82.6,77.9,64.2,74.6,71.0,86.9,71.9,71.9,81.9,
         75.5,74.9,63.6,89.1,67.2,67.8,89.3,88.0,63.6]

# ---------------- drawing ----------------
BG = '#fff8dc'
TICK_FS = 5.5

fig = plt.figure(figsize=(24, 12), dpi=100)
ax1 = fig.add_axes([0.0242, 0.51, 0.9517, 0.42])
ax2 = fig.add_axes([0.0242, 0.0433, 0.9517, 0.42])

fig.text(0.0098, 0.991, 'data from [5004/mic0]\nstarting point is [20240414_000138]',
         fontsize=10, fontweight='bold', va='top', ha='left', linespacing=1.05)


def style(ax, xmax, fmt):
    ax.set_facecolor(BG)
    ax.set_xlim(0, xmax)
    ax.set_ylim(24, 108)
    ax.xaxis.set_major_locator(MultipleLocator(2))
    ax.xaxis.set_minor_locator(MultipleLocator(0.5))
    ax.yaxis.set_major_locator(MultipleLocator(12))
    ax.yaxis.set_minor_locator(MultipleLocator(3))
    ax.xaxis.set_major_formatter(FuncFormatter(fmt))
    ax.grid(which='major', color='#a9a9a9', lw=1.1, ls='-')
    ax.grid(which='minor', axis='y', color='#bdbdbd', lw=0.7, ls='--')
    ax.grid(which='minor', axis='x', color='#c9c9c9', lw=0.7, ls=':')
    ax.set_axisbelow(True)
    ax.tick_params(which='major', length=6, width=1.0, labelsize=TICK_FS, pad=2)
    ax.tick_params(which='minor', length=3, width=0.8)
    for s in ax.spines.values():
        s.set_linewidth(1.5)
    ax.set_ylabel('dB SPL', fontsize=8, labelpad=4)
    ax.set_xlabel('time', fontsize=8, labelpad=3)
    tw = ax.twinx()
    tw.set_ylim(24, 108)
    tw.yaxis.set_major_locator(MultipleLocator(12))
    tw.yaxis.set_minor_locator(MultipleLocator(3))
    tw.tick_params(which='major', length=6, width=1.0, labelsize=TICK_FS, pad=2)
    tw.tick_params(which='minor', length=3, width=0.8)
    tw.set_ylabel('dB SPL', fontsize=8, labelpad=4)
    for s in tw.spines.values():
        s.set_linewidth(1.5)
    return tw


fmt_top = lambda x, pos: f"{int(round(x)) % 24:02d}:00"
fmt_bot = lambda x, pos: f"{int(round(x)) % 24:02d}:00:00"

# top panel
ax1.plot(t_peak, pz, ls='none', marker='+', ms=3, mew=0.8, color='#1e90ff', zorder=3)
ax1.plot(t_peak, pc, ls='none', marker='+', ms=3, mew=0.8, color='#ff00ff', zorder=3)
ax1.plot(t_peak, pa, ls='none', marker='+', ms=3, mew=0.8, color='#2e8b57', zorder=3)
ax1.plot(t_avg, z_avg, color='#4682b4', lw=1.1, zorder=4)
ax1.plot(t_avg, c_avg, color='#da70d6', lw=1.1, zorder=4)
ax1.plot(t_avg, a_avg, color='#9acd32', lw=1.1, zorder=4)
style(ax1, 23.98, fmt_top)
ax1.set_title('average and peak noise level (1 min sampling)', loc='left',
              fontsize=7.5, fontweight='bold', pad=5)
h1 = [Line2D([], [], ls='none', marker='o', ms=4, color='#1e90ff', label='peak dB(Z)'),
      Line2D([], [], ls='none', marker='o', ms=4, color='#ff00ff', label='peak dB(C)'),
      Line2D([], [], ls='none', marker='o', ms=4, color='#2e8b57', label='peak dB(A)'),
      Line2D([], [], color='#4682b4', lw=3, label='avg dB(Z)'),
      Line2D([], [], color='#da70d6', lw=3, label='avg dB(C)'),
      Line2D([], [], color='#9acd32', lw=3, label='avg dB(A)')]
ax1.legend(handles=h1, loc='lower right', ncol=2, fontsize=7, facecolor=BG,
           edgecolor='#e2c89c', framealpha=1, borderaxespad=0.4,
           handlelength=2.2, columnspacing=1.5, labelspacing=0.15)

# bottom panel
ENV = '#f08080'
ax2.fill_between(t_env, env_lo, env_hi, color=ENV, alpha=0.25, lw=0, zorder=1.5)
base = np.interp(t_spk, t_env, env_hi)
ax2.vlines(t_spk, base, v_spk, color=ENV, alpha=0.25, lw=1.2, zorder=1.6)
ax2.plot(t_a5, a5, color='#ffd700', lw=1.4, zorder=3)
ax2.plot(t_c5, c5, color='#ff8c00', lw=1.4, zorder=3)
ax2.plot(t_z5, z5, color='#dc143c', lw=1.4, zorder=3)
style(ax2, 24.0, fmt_bot)
ax2.set_title('average noise level (5 min with 15s min/max dB envelope)', loc='left',
              fontsize=7.5, fontweight='bold', pad=5)
h2 = [Line2D([], [], color='#dc143c', lw=3, label='dB(Z)'),
      Line2D([], [], color='#ff8c00', lw=3, label='dB(C)'),
      Line2D([], [], color='#ffd700', lw=3, label='dB(A)')]
ax2.legend(handles=h2, loc='lower right', fontsize=7, facecolor=BG,
           edgecolor='#e2c89c', framealpha=1, borderaxespad=0.4,
           handlelength=2.2, labelspacing=0.15)

fig.savefig('out.png', dpi=100, facecolor='white')
